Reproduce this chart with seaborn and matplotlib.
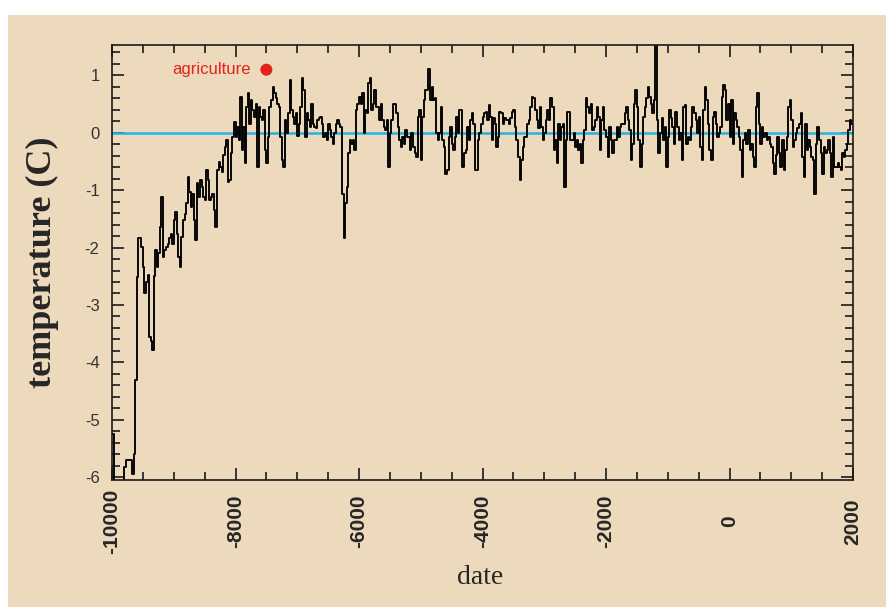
import matplotlib
matplotlib.use("Agg")
import matplotlib.pyplot as plt
import seaborn as sns
import pandas as pd
from matplotlib.patches import Rectangle
from matplotlib.ticker import MultipleLocator

# ---- data (25-year sampling) ----
years = list(range(-10000, 2001, 25))
temps = [
    # -10000 .. -9025
    -5.25, -6.3, -6.3, -6.3, -6.3, -6.3, -6.3, -6.3, -5.83, -5.71,
    -5.71, -5.71, -5.71, -5.94, -5.59, -4.31, -2.51, -1.84, -1.84, -1.99,
    -2.34, -2.8, -2.6, -2.48, -3.56, -3.62, -3.79, -2.5, -2.05, -2.34,
    -2.1, -1.64, -1.12, -2.16, -2.05, -1.99, -1.93, -1.84, -1.76, -1.93,
    # -9000 .. -8025
    -1.52, -1.38, -1.76, -2.16, -2.34, -1.81, -1.52, -1.41, -1.23, -0.77,
    -1.03, -1.29, -1.06, -1.52, -1.87, -0.88, -1.12, -0.83, -0.94, -1.12,
    -1.17, -0.65, -0.83, -1.17, -1.12, -1.06, -1.35, -1.64, -0.65, -0.51,
    -0.59, -0.68, -0.39, -0.24, -0.13, -0.85, -0.83, -0.36, -0.07, 0.19,
    # -8000 .. -7025
    -0.07, 0.1, -0.13, 0.63, -0.3, 0.1, -0.53, 0.45, 0.69, 0.16,
    0.57, 0.4, 0.28, 0.51, -0.59, 0.45, 0.28, 0.22, 0.4, -0.3,
    -0.53, -0.07, 0.45, 0.57, 0.8, 0.69, 0.6, 0.51, 0.45, -0.07,
    -0.48, -0.59, 0.22, -0.01, 0.34, 0.92, 0.4, 0.28, 0.16, 0.34,
    # -7000 .. -6025
    -0.05, 0.16, 0.45, 0.95, 0.74, -0.07, 0.34, 0.22, 0.1, 0.51,
    0.16, 0.1, 0.08, 0.22, 0.25, 0.28, 0.16, -0.07, -0.01, -0.13,
    0.16, 0.05, -0.07, -0.19, -0.01, 0.16, 0.22, 0.16, 0.1, -1.06,
    -1.84, -1.23, -0.94, -0.36, -0.13, -0.19, -0.13, -0.3, 0.4, 0.51,
    # -6000 .. -5025
    0.63, 0.51, 0.69, -0.01, 0.4, 0.34, 0.86, 0.95, 0.4, 0.51,
    0.74, 0.45, 0.45, 0.22, 0.51, 0.22, 0.1, 0.05, 0.22, -0.59,
    -0.01, 0.22, 0.51, 0.51, 0.34, 0.1, -0.13, -0.24, -0.07, -0.19,
    0.05, -0.07, -0.07, -0.3, -0.01, -0.24, -0.36, -0.42, 0.28, 0.4,
    # -5000 .. -4025
    -0.48, 0.28, 0.57, 0.74, 0.74, 1.12, 0.57, 0.8, 0.57, 0.6,
    -0.01, -0.13, -0.01, 0.45, -0.13, -0.24, -0.71, -0.65, -0.07, 0.1,
    -0.19, -0.3, -0.07, 0.28, -0.01, 0.4, 0.4, -0.59, -0.36, -0.3,
    0.1, -0.13, 0.22, 0.34, 0.16, -0.65, -0.65, -0.13, -0.01, 0.16,
    # -4000 .. -3025
    0.28, 0.34, 0.37, 0.22, 0.48, 0.28, -0.13, 0.25, 0.16, -0.24,
    -0.07, 0.37, 0.34, 0.16, 0.25, 0.22, 0.22, 0.16, 0.25, 0.37,
    0.4, 0.1, -0.13, -0.42, -0.83, -0.48, -0.24, -0.07, -0.07, 0.16,
    0.22, 0.45, 0.63, 0.6, 0.4, 0.22, 0.08, 0.45, 0.1, -0.13,
    # -3000 .. -2025
    -0.01, 0.22, 0.4, 0.22, 0.6, 0.45, -0.3, -0.13, -0.53, 0.16,
    -0.13, 0.1, 0.16, -0.94, -0.13, 0.37, 0.37, -0.13, -0.13, -0.01,
    -0.24, -0.13, -0.3, -0.19, -0.53, -0.13, 0.05, 0.6, 0.45, 0.34,
    0.51, 0.05, 0.1, 0.22, 0.45, 0.28, -0.3, 0.22, 0.45, 0.05,
    # -2000 .. -1025
    -0.07, -0.42, 0.1, -0.13, -0.36, -0.13, -0.13, 0.1, -0.07, 0.1,
    0.16, 0.16, 0.34, 0.45, 0.22, 0.05, -0.48, -0.2, 0.51, 0.74,
    0.45, -0.13, -0.59, -0.19, 0.28, 0.45, 0.6, 0.8, 0.63, 0.51,
    0.34, 0.57, 1.8, 0.22, -0.36, -0.01, 0.25, -0.13, 0.1, -0.59,
    # -1000 .. -25
    -0.07, 0.4, 0.25, 0.1, -0.19, 0.37, 0.1, -0.13, -0.01, -0.48,
    0.45, 0.48, -0.19, -0.07, -0.13, 0.1, 0.45, 0.34, 0.22, -0.01,
    0.28, -0.24, -0.48, 0.4, 0.8, 0.57, 0.16, -0.3, -0.48, 0.28,
    0.37, 0.16, -0.07, -0.01, 0.1, 0.63, 0.83, 0.74, 0.22, 0.51,
    # 0 .. 975
    -0.07, 0.57, -0.19, 0.34, 0.22, 0.1, -0.07, -0.3, -0.77, -0.13,
    -0.01, -0.19, 0.05, -0.3, -0.19, -0.42, -0.59, 0.45, 0.69, 0.16,
    -0.19, 0.1, -0.07, -0.01, -0.13, -0.07, -0.19, -0.24, -0.53, -0.71,
    -0.39, -0.07, -0.36, -0.59, -0.13, -0.65, -0.3, -0.07, 0.45, 0.57,
    # 1000 .. 1975
    0.22, -0.24, -0.13, -0.01, 0.08, 0.16, 0.34, -0.42, -0.77, 0.16,
    -0.3, -0.13, -0.24, -0.42, -0.48, -1.06, -0.19, 0.1, -0.13, -0.36,
    -0.71, -0.24, -0.36, -0.3, -0.13, -0.36, -0.77, -0.07, -0.59, -0.59,
    -0.53, -0.59, -0.65, -0.36, -0.42, -0.3, -0.19, 0.05, 0.22, 0.16,
    # 2000
    0.16,
]
agri_year = [-7500]
agri_temp = [1.1]
agri_label = "agriculture"
x_label = "date"
y_label = "temperature (C)"

df = pd.DataFrame({"year": years, "temp": temps})

# ---- style ----
sns.set_style("ticks")
plt.rcParams["font.family"] = ["Liberation Sans", "DejaVu Sans"]
plt.rcParams["axes.unicode_minus"] = False

bg = "#EDD9BB"
fig = plt.figure(figsize=(8.86, 6.07), dpi=100, facecolor="white")
fig.patches.append(Rectangle((8 / 886, 0), 1 - 8 / 886, 1 - 15 / 607,
                             transform=fig.transFigure, facecolor=bg,
                             edgecolor="none", zorder=-10))
ax = fig.add_axes([112 / 886, 1 - 480 / 607, (853 - 112) / 886, (480 - 45) / 607])
ax.set_facecolor(bg)

ax.axhline(0, color="#22B2E6", lw=1.8, zorder=1)
sns.lineplot(data=df, x="year", y="temp", ax=ax, color="black", lw=1.35,
             drawstyle="steps-post", estimator=None, sort=False, zorder=2)
sns.scatterplot(x=agri_year, y=agri_temp, ax=ax, color="#E2231A", s=75,
                edgecolor="none", zorder=3)
ax.annotate(agri_label, xy=(agri_year[0], agri_temp[0]), xytext=(-11, 0),
            textcoords="offset points", ha="right", va="center",
            color="#E2231A", fontsize=12)

ax.set_xlim(-10000, 2000)
ax.set_ylim(-6.05, 1.53)
ax.xaxis.set_major_locator(MultipleLocator(2000))
ax.xaxis.set_minor_locator(MultipleLocator(500))
ax.yaxis.set_major_locator(MultipleLocator(1))
ax.yaxis.set_minor_locator(MultipleLocator(0.2))

for s in ax.spines.values():
    s.set_linewidth(1.2)
    s.set_color("#1a1a1a")

ax.tick_params(which="both", direction="in", top=True, right=True,
               width=1.2, color="#1a1a1a")
ax.tick_params(which="major", length=8.5)
ax.tick_params(which="minor", length=5.5)
ax.tick_params(axis="y", labelsize=12, labelcolor="#333333", pad=9)
ax.tick_params(axis="x", labelsize=15, labelrotation=90, pad=30)
plt.setp(ax.get_xticklabels(), fontweight="bold", va="center")

ax.set_xlabel(x_label, fontfamily="Liberation Serif", fontsize=20, va="center")
ax.set_ylabel(y_label, fontfamily="Liberation Serif", fontweight="bold",
              fontsize=26, va="center")
ax.xaxis.set_label_coords((480 - 112) / 741, (480 - 577) / 435)
ax.yaxis.set_label_coords((42 - 112) / 741, 0.5)

fig.savefig("out.png", dpi=100, facecolor=fig.get_facecolor())
